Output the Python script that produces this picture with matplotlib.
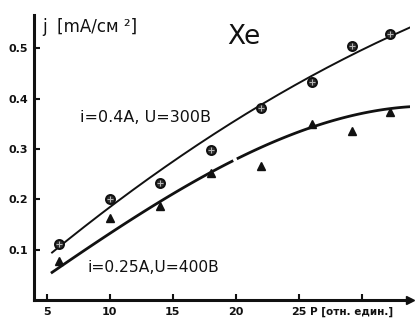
import numpy as np
import matplotlib
matplotlib.use("Agg")
import matplotlib.pyplot as plt

# measured points, Xe
p_vals = [6, 10, 14, 18, 22, 26, 29.2, 32.2]
j_300 = [0.111, 0.200, 0.232, 0.299, 0.382, 0.434, 0.505, 0.529]   # i=0.4A, U=300B (circles)
j_400 = [0.077, 0.164, 0.186, 0.253, 0.267, 0.350, 0.335, 0.374]   # i=0.25A, U=400B (triangles)

# hand drawn trend lines
fit_300_x = [5.43, 15.57, 23.5, 33.8]
fit_300_y = [0.095, 0.283, 0.412, 0.541]
fit_400_x = [5.43, 15.57, 19.69, 23.5, 26.1, 33.8]
fit_400_y = [0.055, 0.220, 0.275, 0.319, 0.345, 0.384]

x_ticks = [5, 10, 15, 20, 25, 30]
x_labels = ["5", "10", "15", "20", "25", ""]
y_ticks = [0.1, 0.2, 0.3, 0.4, 0.5]

ink = "#111111"

fig = plt.figure(figsize=(4.15, 3.22), dpi=100)
ax = fig.add_axes([0.082, 0.068, 0.906, 0.885])
ax.set_xlim(4.0, 33.8)
ax.set_ylim(0, 0.566)

# trend curves
c3 = np.polyfit(fit_300_x, fit_300_y, 2)
xx = np.linspace(fit_300_x[0], fit_300_x[-1], 200)
ax.plot(xx, np.polyval(c3, xx), color=ink, lw=1.4)

c4 = np.polyfit(fit_400_x, fit_400_y, 3)
xa = np.linspace(fit_400_x[0], 19.69, 120)
xb = np.linspace(20.17, fit_400_x[-1], 120)
ax.plot(xa, np.polyval(c4, xa), color=ink, lw=2.0)
ax.plot(xb, np.polyval(c4, xb), color=ink, lw=2.0)

# markers
ax.plot(p_vals, j_300, ls="none", marker="o", ms=6.5, mfc="#333333", mec=ink, mew=1.4)
ax.plot(p_vals, j_300, ls="none", marker="+", ms=5, mec="#bbbbbb", mew=0.7)
ax.plot(p_vals, j_400, ls="none", marker="^", ms=6, color=ink)

# axes look: only left/bottom with arrows
for s in ["top", "right"]:
    ax.spines[s].set_visible(False)
for s in ["left", "bottom"]:
    ax.spines[s].set_linewidth(2.2)
    ax.spines[s].set_color(ink)
ax.plot(1, 0, ">", color=ink, ms=6, transform=ax.get_yaxis_transform(), clip_on=False)
ax.plot(0, 1, "^", color=ink, ms=6, transform=ax.get_xaxis_transform(), clip_on=False)

ax.set_xticks(x_ticks)
ax.set_xticklabels(x_labels)
ax.set_yticks(y_ticks)
ax.set_yticklabels([f"{v:.1f}" for v in y_ticks])
ax.tick_params(direction="in", length=4, width=1.5, colors=ink, labelsize=8)
ax.tick_params(axis="x", pad=5)
ax.tick_params(axis="y", pad=4)
for lab in ax.get_xticklabels() + ax.get_yticklabels():
    lab.set_fontweight("bold")

ax.text(4.63, 0.543, "j  [mA/см ²]", fontsize=12, va="center", ha="left", color=ink)
ax.text(20.6, 0.523, "Xe", fontsize=19, va="center", ha="center", color=ink)
ax.text(7.65, 0.362, "i=0.4A, U=300В", fontsize=11.5, va="center", ha="left", color=ink)
ax.text(8.2, 0.065, "i=0.25A,U=400В", fontsize=11.2, va="center", ha="left", color=ink)
ax.text(25.9, -0.024, "P [отн. един.]", fontsize=7.5, va="center", ha="left", color=ink,
        fontweight="bold", clip_on=False)

fig.savefig("out.png", dpi=100)
